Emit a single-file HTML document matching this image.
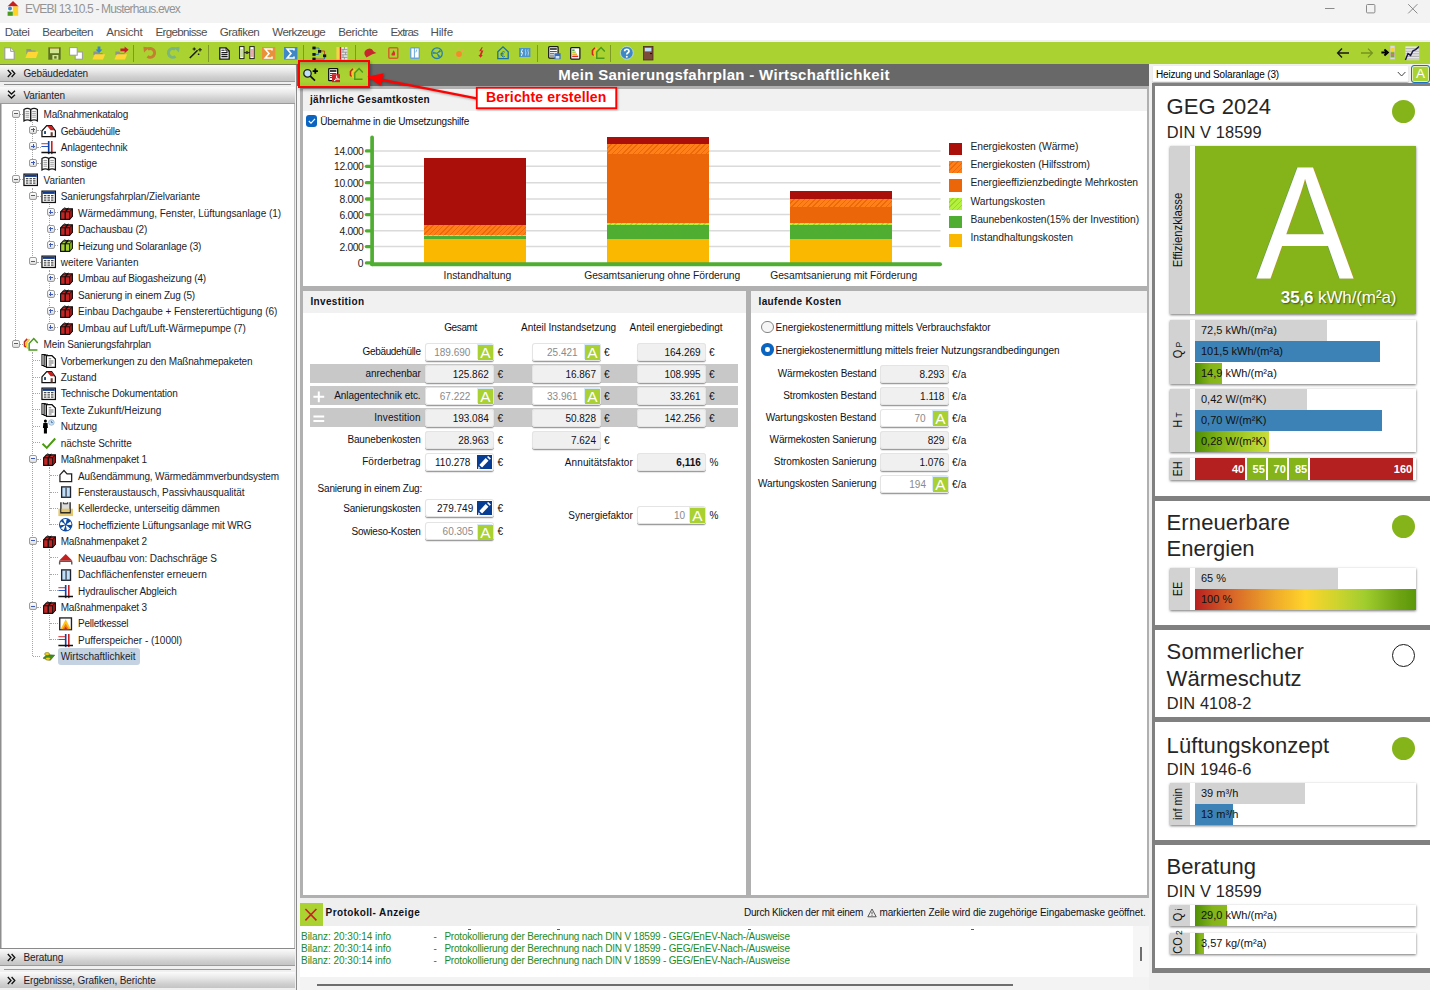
<!DOCTYPE html>
<html lang="de"><head><meta charset="utf-8"><title>EVEBI 13.10.5 - Musterhaus.evex</title>
<style>
html,body{margin:0;padding:0;font-family:"Liberation Sans",sans-serif}
body{width:1430px;height:990px;overflow:hidden;background:#f0f0f0;font-family:"Liberation Sans",sans-serif;}
#app{position:relative;width:1430px;height:990px;overflow:hidden;background:#f0f0f0;font-family:"Liberation Sans",sans-serif;font-size:10px;color:#000}
.a{position:absolute}
.t{position:absolute;white-space:pre}
svg{position:absolute;overflow:visible}
.hdr{position:absolute;left:0;width:295px;height:16px;background:linear-gradient(#fbfbfb 0%,#e9e9e9 35%,#cfcfcf 75%,#c4c4c4 100%);border-bottom:1px solid #9b9b9b}
.xb{position:absolute;width:6px;height:6px;border:1px solid #9c9c9c;border-radius:2px;background:linear-gradient(#ffffff,#dedede)}
.xb i{position:absolute;left:1px;top:2.5px;width:4px;height:1px;background:#3c5ac0}
.xb b{position:absolute;left:2.5px;top:1px;width:1px;height:4px;background:#3c5ac0}
.dv{position:absolute;width:0;border-left:1px dotted #a6a6a6}
.dh{position:absolute;height:0;border-top:1px dotted #a6a6a6}
.bx{position:absolute;height:18px;margin-top:-.5px;border-radius:3px;background:#f0f0f0;box-shadow:inset 0 0 0 1px #e4e4e4,0 1px 0 0 #9d9d9d,0 2px 1px 0 rgba(0,0,0,.10)}
.bx.w{background:#fff}
.ab{position:absolute;width:15px;height:15px;background:#a9d131;color:#fff;font-size:15.4px;line-height:15px;text-align:center;box-shadow:-1px -1px 0 0 #d6eafc}
.pb{position:absolute;width:14.8px;height:14.4px;background:#063d92}
.band{position:absolute;left:310px;width:428px;height:19.4px;background:#c8c8c8}
.card{position:absolute;left:1170px;width:245.5px;background:#fff;box-shadow:0 1px 2.5px rgba(0,0,0,.55)}
.card .g{position:absolute;left:0;top:0;bottom:0;width:20px;background:#d2d2d2}
.rot{position:absolute;white-space:pre;transform:translate(-50%,-50%) rotate(-90deg) scaleX(.87);font-size:12.5px;line-height:12px;color:#111}
.sep{position:absolute;left:1155px;width:275px;height:5px;background:#808080}
.circ{position:absolute;left:1392px;width:23px;height:23px;border-radius:50%;background:#84b419}
.h1{color:#262626}

</style></head>
<body>
<div id="app">

<svg width="0" height="0" style="position:absolute;left:-10px;top:-10px">
<defs>
<symbol id="i-book" viewBox="0 0 16 16">
 <path d="M1 2.6C3 1.2 6 1.2 8 2.6C10 1.2 13 1.2 15 2.6V14.4C13 13.2 10 13.2 8 14.4C6 13.2 3 13.2 1 14.4Z" fill="#fff" stroke="#1a1a1a" stroke-width="1.3"></path>
 <path d="M8 2.6V14.4" stroke="#1a1a1a" stroke-width="1.5"></path>
 <path d="M2.6 4.6h3.8M2.6 6.6h3.8M2.6 8.6h3.8M2.6 10.6h3.8M9.6 4.6h3.8M9.6 6.6h3.8M9.6 8.6h3.8M9.6 10.6h3.8" stroke="#8a8a8a" stroke-width=".9"></path>
</symbol>
<symbol id="i-house" viewBox="0 0 16 16">
 <path d="M1 8.2L6 2.6H11L15 8.2V14.2H1Z" fill="#fff" stroke="#111" stroke-width="1.3"></path>
 <path d="M6.2 2.8H10.8L14.2 7.6H10Z" fill="#c8201e"></path>
 <rect x="3.2" y="8.4" width="2" height="3" fill="#1d4d7c"></rect>
 <rect x="10" y="9.6" width="2.2" height="4.4" fill="#6a3b30"></rect>
</symbol>
<symbol id="i-pipes" viewBox="0 0 16 16">
 <path d="M.4 4.8H7.4" stroke="#e2575a" stroke-width="1.2"></path>
 <path d="M.4 7.8H7.4" stroke="#2a59c4" stroke-width="1.2"></path>
 <path d="M8 2V15.8" stroke="#0e43a6" stroke-width="1.7"></path>
 <path d="M11.2 2V15.8" stroke="#c8201e" stroke-width="1.7"></path>
 <path d="M.4 14H15.6" stroke="#111" stroke-width="1.5"></path>
</symbol>
<symbol id="i-table" viewBox="0 0 16 16">
 <rect x="1" y="2.2" width="14" height="11.8" fill="#fff" stroke="#111" stroke-width="1.3"></rect>
 <rect x="1.7" y="2.9" width="12.6" height="2.2" fill="#103a90"></rect>
 <path d="M3 6.9h2.6M6.7 6.9h2.6M10.4 6.9h2.6M3 9.2h2.6M6.7 9.2h2.6M10.4 9.2h2.6M3 11.5h2.6M6.7 11.5h2.6M10.4 11.5h2.6" stroke="#4a4a4a" stroke-width="1.3"></path>
</symbol>
<symbol id="i-rbox" viewBox="0 0 13 13">
 <path d="M.6 4.8L3.4 1.8H12.4V9.2L9.6 12.4H.6Z" fill="#c62422" stroke="#111" stroke-width="1.15" stroke-linejoin="round"></path>
 <path d="M9.6 4.8L12.4 1.8V9.2L9.6 12.4Z" fill="#a11a18" stroke="#111" stroke-width=".9" stroke-linejoin="round"></path>
 <path d="M.6 4.8H9.6" stroke="#111" stroke-width="1"></path>
 <path d="M5.2 12.4V4.8L8 1.8" fill="none" stroke="#111" stroke-width="1.35"></path>
 <path d="M4.4 .3L6.3 2L8.6 1" fill="none" stroke="#111" stroke-width=".9"></path>
</symbol>
<symbol id="i-gbox" viewBox="0 0 13 13">
 <path d="M.6 4.8L3.4 1.8H12.4V9.2L9.6 12.4H.6Z" fill="#a5d22e" stroke="#111" stroke-width="1.15" stroke-linejoin="round"></path>
 <path d="M9.6 4.8L12.4 1.8V9.2L9.6 12.4Z" fill="#86b31f" stroke="#111" stroke-width=".9" stroke-linejoin="round"></path>
 <path d="M.6 4.8H9.6" stroke="#111" stroke-width="1"></path>
 <path d="M5.2 12.4V4.8L8 1.8" fill="none" stroke="#111" stroke-width="1.35"></path>
 <path d="M4.4 .3L6.3 2L8.6 1" fill="none" stroke="#111" stroke-width=".9"></path>
</symbol>
<symbol id="i-sfp" viewBox="0 0 16 16">
 <path d="M4.4 2L1.6 5V9.2L3 10.6" fill="none" stroke="#c8281e" stroke-width="1.7"></path>
 <path d="M6.8 2.2L4 5.6V10.6L5.4 12" fill="none" stroke="#ffc828" stroke-width="1.7"></path>
 <path d="M15.4 6.2L11.2 1.6L6.4 6.8V13.6H15" fill="none" stroke="#4a9a1e" stroke-width="1.6"></path>
</symbol>
<symbol id="i-docs" viewBox="0 0 16 16">
 <path d="M1 1.6H4.4V13H1Z" fill="#fff" stroke="#111" stroke-width="1.1"></path>
 <path d="M3.2 2.2H6.6V14H3.2Z" fill="#d8d8d8" stroke="#111" stroke-width="1.1"></path>
 <path d="M5.6 2.8H11.4L15 6.2V15H5.6Z" fill="#fff" stroke="#111" stroke-width="1.3"></path>
 <path d="M8 6h2.6M8 8.4h5M8 10.4h5M8 12.4h3" stroke="#6a6a6a" stroke-width="1.1"></path>
</symbol>
<symbol id="i-person" viewBox="0 0 16 16">
 <circle cx="4.6" cy="2.2" r="1.6" fill="#000"></circle>
 <path d="M2.4 4.2H6.8L7.2 9.4H6.2V15H3V9.4H2Z" fill="#000"></path>
 <circle cx="10.8" cy="3.6" r="2.9" fill="#cfe4f7" stroke="#8fb0cc" stroke-width=".8"></circle>
 <path d="M10.8 2V3.8H12.4" stroke="#2f5f8f" stroke-width=".8" fill="none"></path>
</symbol>
<symbol id="i-check" viewBox="0 0 16 16">
 <path d="M1.6 9.2L6 13.4L14.8 3.6" fill="none" stroke="#4a9a0e" stroke-width="2.1"></path>
</symbol>
<symbol id="i-wall" viewBox="0 0 16 16">
 <path d="M2 7.2L6.2 2.6L9.4 6.2H14.2V14.2H2Z" fill="#fff" stroke="#222" stroke-width="1.3"></path>
</symbol>
<symbol id="i-win" viewBox="0 0 16 16">
 <rect x="3.8" y="3" width="9.2" height="10.8" fill="#bfe0fb" stroke="#20242e" stroke-width="1.4"></rect>
 <path d="M8.4 3V13.8" stroke="#5a6274" stroke-width="1.7"></path>
</symbol>
<symbol id="i-cellar" viewBox="0 0 16 16">
 <rect x=".4" y="8" width="15.2" height="7.8" fill="#e6c870"></rect>
 <path d="M3 1.4V12.2H12.6V1.4" fill="#dcdcdc" stroke="#222" stroke-width="1.4"></path>
 <rect x="3.7" y="8" width="8.2" height="3.5" fill="#e1c46c"></rect>
 <path d="M5.6 1.4V2.9H10V1.4" fill="none" stroke="#222" stroke-width="1"></path>
</symbol>
<symbol id="i-fan" viewBox="0 0 16 16">
 <circle cx="8" cy="8" r="7" fill="#0d4aa4"></circle>
 <g fill="#fff">
  <path d="M8 8L5.2 2.6A6 6 0 0 1 9 2.1Z"></path>
  <path d="M8 8L13 4.6A6 6 0 0 1 13.9 8.4Z"></path>
  <path d="M8 8L12.6 12A6 6 0 0 1 9.2 13.8Z"></path>
  <path d="M8 8L6 13.6A6 6 0 0 1 3 11.4Z"></path>
  <path d="M8 8L2.1 8.6A6 6 0 0 1 3.2 4.6Z"></path>
 </g>
 <circle cx="8" cy="8" r="1.2" fill="#0d4aa4"></circle>
</symbol>
<symbol id="i-roof" viewBox="0 0 16 16">
 <path d="M8 4.2L15 11.2H1Z" fill="#c4201f"></path>
 <path d="M1.7 15.2V12.6Q1.7 11.8 2.7 11.8H13.3Q14.3 11.8 14.3 12.6V15.2" fill="none" stroke="#5a5a5a" stroke-width="1.5"></path>
</symbol>
<symbol id="i-flame" viewBox="0 0 16 16">
 <rect x="1.8" y="2" width="12.2" height="12.2" fill="#fff" stroke="#222" stroke-width="1.4"></rect>
 <path d="M8 3.4L13.4 13.8H2.6Z" fill="#ffc320"></path>
 <path d="M8 8L11.4 13.8H4.6Z" fill="#f07a14"></path>
 <path d="M8 11.2L9.6 13.8H6.4Z" fill="#c8241a"></path>
</symbol>
<symbol id="i-money" viewBox="0 0 16 12">
 <path d="M.6 8L5.6 3.2L15.6 4L10 10.6Z" fill="#3f8f1e" stroke="#24501a" stroke-width=".6"></path>
 <ellipse cx="5.8" cy="2.6" rx="3.2" ry="1.9" fill="#f0d21e" stroke="#7a6a05" stroke-width=".7"></ellipse>
 <ellipse cx="7" cy="8.6" rx="3.2" ry="1.9" fill="#f0d21e" stroke="#7a6a05" stroke-width=".7"></ellipse>
</symbol>
<symbol id="i-pencil" viewBox="0 0 15 15">
 <path d="M2.3 9.9L8.7 3L11.5 5.7L5.1 12.6Z" fill="#fff"></path>
 <path d="M10 2L11.2 .9L13.9 3.5L12.7 4.8Z" fill="#fff"></path>
 <path d="M1 13.9L1.5 11.3L3.5 13.3Z" fill="#fff"></path>
</symbol>
</defs>
</svg>

<div class="a" style="left:0px;top:0px;width:1430px;height:23px;background:#f3f3f3;"></div>
<svg style="left:7px;top:1px" width="12" height="15" viewBox="0 0 12 15"><path d="M6 0L11.6 5.4H.4Z" fill="#c8201e"></path><rect x=".6" y="5.4" width="5.2" height="5" fill="#fff"></rect><circle cx="3" cy="7.6" r="2" fill="#3f88c5"></circle><rect x="5.8" y="5.4" width="5.4" height="9.4" fill="#ffd42a"></rect><rect x=".6" y="10.6" width="5.2" height="4.2" fill="#4a9a1e"></rect></svg>
<span class="t" style="top: 1.3px; font-size: 12px; line-height: 16px; color: rgb(148, 148, 148); left: 25px; letter-spacing: -0.831px;">EVEBI 13.10.5 - Musterhaus.evex</span>
<svg style="left:1320px;top:0px" width="110" height="20" viewBox="0 0 110 20"><path d="M5 8.5H14.5" stroke="#8a8a8a" stroke-width="1"></path><rect x="46.5" y="4.5" width="8.4" height="8.4" rx="1" fill="none" stroke="#8a8a8a" stroke-width="1"></rect><path d="M88.2 4.2L97.4 13.4M97.4 4.2L88.2 13.4" stroke="#8a8a8a" stroke-width="1"></path></svg>
<div class="a" style="left:0px;top:23px;width:1430px;height:17px;background:#ffffff;"></div>
<div class="a" style="left:0px;top:40px;width:1430px;height:2px;background:#f1f1f1;"></div>
<span class="t" style="top: 24.2px; font-size: 11.6px; line-height: 15px; color: rgb(80, 80, 80); left: 4.7px; letter-spacing: -0.496px;">Datei</span>
<span class="t" style="top: 24.2px; font-size: 11.6px; line-height: 15px; color: rgb(80, 80, 80); left: 42.3px; letter-spacing: -0.548px;">Bearbeiten</span>
<span class="t" style="top: 24.2px; font-size: 11.6px; line-height: 15px; color: rgb(80, 80, 80); left: 106.2px; letter-spacing: -0.247px;">Ansicht</span>
<span class="t" style="top: 24.2px; font-size: 11.6px; line-height: 15px; color: rgb(80, 80, 80); left: 155.5px; letter-spacing: -0.682px;">Ergebnisse</span>
<span class="t" style="top: 24.2px; font-size: 11.6px; line-height: 15px; color: rgb(80, 80, 80); left: 219.7px; letter-spacing: -0.529px;">Grafiken</span>
<span class="t" style="top: 24.2px; font-size: 11.6px; line-height: 15px; color: rgb(80, 80, 80); left: 272.3px; letter-spacing: -0.615px;">Werkzeuge</span>
<span class="t" style="top: 24.2px; font-size: 11.6px; line-height: 15px; color: rgb(80, 80, 80); left: 338.2px; letter-spacing: -0.404px;">Berichte</span>
<span class="t" style="top: 24.2px; font-size: 11.6px; line-height: 15px; color: rgb(80, 80, 80); left: 390.5px; letter-spacing: -0.9px;">Extras</span>
<span class="t" style="top: 24.2px; font-size: 11.6px; line-height: 15px; color: rgb(80, 80, 80); left: 430.4px; letter-spacing: -0.121px;">Hilfe</span>
<div class="a" style="left:0px;top:42px;width:1430px;height:22px;background:#aad332;"></div>
<div class="a" style="left:0px;top:64px;width:297px;height:1px;background:#77805a;"></div>
<div class="a" style="left:133.0px;top:44.5px;width:1px;height:17.5px;background:#7d9a26;"></div>
<div class="a" style="left:208.0px;top:44.5px;width:1px;height:17.5px;background:#7d9a26;"></div>
<div class="a" style="left:303.0px;top:44.5px;width:1px;height:17.5px;background:#7d9a26;"></div>
<div class="a" style="left:355.0px;top:44.5px;width:1px;height:17.5px;background:#7d9a26;"></div>
<div class="a" style="left:537.0px;top:44.5px;width:1px;height:17.5px;background:#7d9a26;"></div>
<div class="a" style="left:610.0px;top:44.5px;width:1px;height:17.5px;background:#7d9a26;"></div>
<svg style="left:4px;top:46.5px" width="11" height="13" viewBox="0 0 11 13"><path d="M.8.8H6.6L10.2 4.4V12.2H.8Z" fill="#fff" stroke="#9a9a9a" stroke-width="1.1"></path><path d="M6.6.8V4.4H10.2" fill="#f0f0f0" stroke="#9a9a9a" stroke-width=".9"></path></svg>
<svg style="left:25px;top:47.5px" width="14" height="11" viewBox="0 0 14 11"><path d="M1.4 1H5.6L6.8 2.4H10.6V6H1.4Z" fill="#8e9492"></path><path d="M2.8 3.8H13.4L11 10H.4Z" fill="#ffd633"></path></svg>
<svg style="left:47.5px;top:46.8px" width="13" height="13" viewBox="0 0 13 13"><rect x=".3" y=".3" width="12.4" height="12.4" fill="#5d7220"></rect><rect x="2" y=".3" width="9" height="1.2" fill="#c97b3a"></rect><rect x="2" y="1.6" width="9" height="4.6" fill="#cfe590"></rect><rect x="4.4" y="8" width="6" height="4.7" fill="#cfe590"></rect><rect x="6.2" y="9.2" width="2.4" height="2.4" fill="#5d7220"></rect></svg>
<svg style="left:69px;top:46.8px" width="14" height="13" viewBox="0 0 14 13"><rect x="6.2" y="5" width="7.2" height="7.2" fill="#fff" stroke="#9a9a9a" stroke-width="1"></rect><rect x=".6" y=".6" width="7.6" height="7.6" fill="#fff" stroke="#9a9a9a" stroke-width="1"></rect></svg>
<svg style="left:92px;top:45.6px" width="14" height="14" viewBox="0 0 14 14"><path d="M1.4 5.6H5.2L6.4 7H10.6V9H1.4Z" fill="#8e9492"></path><path d="M2.8 8.2H13.2L11 13.6H.4Z" fill="#ffd633"></path><path d="M5.6.4H8.4V3.6H10.4L7 7.2L3.6 3.6H5.6Z" fill="#3a86c8"></path></svg>
<svg style="left:114px;top:45.6px" width="15" height="14" viewBox="0 0 15 14"><path d="M1.4 5.6H5.2L6.4 7H10.6V9H1.4Z" fill="#8e9492"></path><path d="M2.8 8.2H13.2L11 13.6H.4Z" fill="#ffd633"></path><path d="M6.4 2.4H10.6V.4L14.6 3.8L10.6 7.2V5.2H6.4Z" fill="#c8202a"></path></svg>
<svg style="left:143px;top:46.2px" width="14" height="13" viewBox="0 0 14 13"><path d="M4.68 3.3A4.4 4.4 0 1 1 4.49 10.37" fill="none" stroke="#c47f30" stroke-width="3"></path><path d="M.4 .8L6.4 1.4L1 6.6Z" fill="#c47f30"></path></svg>
<svg style="left:165.6px;top:46.2px" width="14" height="13" viewBox="0 0 14 13"><path d="M9.32 3.3A4.4 4.4 0 1 0 9.51 10.37" fill="none" stroke="#7ab67e" stroke-width="3"></path><path d="M13.6 .8L7.6 1.4L13 6.6Z" fill="#7ab67e"></path></svg>
<svg style="left:189px;top:46.4px" width="14" height="13" viewBox="0 0 14 13"><path d="M.8 12L8.6 4.2" stroke="#1a1a1a" stroke-width="1.5"></path><path d="M5.2 1.4V4.6M3.6 3H6.8M11 2V5.6M9.2 3.8H12.8M9.6 7.4V9M8.8 8.2H10.4" stroke="#1a1a1a" stroke-width="1.1"></path></svg>
<svg style="left:219px;top:46.8px" width="11" height="13" viewBox="0 0 11 13"><path d="M.8.8H7L10.2 4V12.2H.8Z" fill="#fff" stroke="#1a1a1a" stroke-width="1.3"></path><path d="M7 .8V4H10.2" fill="none" stroke="#1a1a1a" stroke-width="1"></path><path d="M2.4 3.2H5.6M2.4 5.6H8.6M2.4 7.6H8.6M2.4 9.6H8.6" stroke="#1a1a1a" stroke-width="1.1"></path></svg>
<svg style="left:239px;top:46.4px" width="16" height="13.4" viewBox="0 0 16 13.4"><rect x=".6" y=".6" width="4.4" height="12" fill="#fff" stroke="#222" stroke-width="1"></rect><rect x="10.8" y=".6" width="4.4" height="12" fill="#fff" stroke="#222" stroke-width="1"></rect><path d="M1.4 4H4.2M1.4 6H4.2M1.4 8H4.2M1.4 10H4.2" stroke="#8ab82a" stroke-width=".9"></path><path d="M11.6 4H14.4M11.6 6H14.4M11.6 8H14.4M11.6 10H14.4" stroke="#d44" stroke-width=".9"></path><path d="M5 6.6H10.8" stroke="#222" stroke-width="1"></path><circle cx="8" cy="6.6" r="1.5" fill="#333"></circle></svg>
<svg style="left:262px;top:46.8px" width="13.4" height="12.6" viewBox="0 0 13.4 12.6"><rect width="13.4" height="12.6" fill="#e8913a"></rect><path d="M10 3.4V2H3.2L7 6.4L3.2 11H10V9.6" fill="none" stroke="#fff" stroke-width="1.6"></path></svg>
<svg style="left:284px;top:46.8px" width="13.4" height="12.6" viewBox="0 0 13.4 12.6"><rect width="13.4" height="12.6" fill="#3f88c5"></rect><path d="M10 3.4V2H3.2L7 6.4L3.2 11H10V9.6" fill="none" stroke="#fff" stroke-width="1.6"></path></svg>
<svg style="left:312px;top:45.8px" width="16" height="15" viewBox="0 0 16 15"><path d="M2 2H7V5.2M2 8.4H6.6V5.4M2 13H12.6V10" fill="none" stroke="#2a7ab8" stroke-width="1"></path><path d="M7.8 5H12.6V8.6" fill="none" stroke="#c8402a" stroke-width="1"></path><path d="M2 13H11" stroke="#d8902a" stroke-width="1"></path><rect x=".4" y=".6" width="3.2" height="2.8" fill="#111"></rect><rect x=".4" y="7" width="3.2" height="2.8" fill="#111"></rect><rect x=".4" y="11.6" width="3.2" height="2.8" fill="#111"></rect><rect x="6" y="4" width="3.2" height="2.8" fill="#111"></rect><rect x="11" y="8.4" width="3.2" height="2.8" fill="#111"></rect></svg>
<svg style="left:336px;top:46.8px" width="12" height="12.6" viewBox="0 0 12 12.6"><rect x=".4" width="3.4" height="12.6" fill="#f5d34a"></rect><rect x="3.8" width="1.6" height="12.6" fill="#c8262a"></rect><rect x="5.4" width="6" height="12.6" fill="#e4e4e4"></rect><path d="M5.4 2.6H11.4M5.4 5.2H11.4M5.4 7.8H11.4M5.4 10.4H11.4M8.4 0V2.6M7 2.6V5.2M9.6 5.2V7.8M7 7.8V10.4M8.4 10.4V12.6" stroke="#8a8a8a" stroke-width=".8"></path></svg>
<svg style="left:364px;top:47.6px" width="13" height="10" viewBox="0 0 13 10"><path d="M.6 6.6A4.8 4.8 0 0 1 9.6 3.4L12.4 5L8.4 6.2L2.4 9.4Z" fill="#c8282d"></path></svg>
<svg style="left:388px;top:46.8px" width="10.6" height="12" viewBox="0 0 10.6 12"><rect x=".8" y=".8" width="9" height="10.4" rx="1" fill="#aad332" stroke="#d0652a" stroke-width="1.5"></rect><path d="M5.4 3.2C7 5 7.6 6.4 6.8 8.4H3.8C3 7 3.8 6 4.6 5.4C4.8 4.6 5 4 5.4 3.2Z" fill="#d8322a"></path></svg>
<svg style="left:410px;top:46.8px" width="10" height="12" viewBox="0 0 10 12"><rect x=".7" y=".7" width="8.6" height="10.6" rx=".8" fill="#fff" stroke="#6ca6d8" stroke-width="1.4"></rect><path d="M4.4 .8V11.2" stroke="#6ca6d8" stroke-width="1"></path><path d="M6.8 2.4L5.8 5.4" stroke="#6ca6d8" stroke-width=".9"></path></svg>
<svg style="left:431px;top:46.8px" width="12" height="12.4" viewBox="0 0 12 12.4"><circle cx="6" cy="6.2" r="5.3" fill="none" stroke="#2a7fa8" stroke-width="1.3"></circle><path d="M6 6.2L8.8 3.2L9.6 4.6ZM6 6.2L9.2 9.4L7.6 10ZM6 6.2L1.8 6.6L2.2 5Z" fill="#2a7fa8" stroke="#2a7fa8" stroke-width=".6"></path></svg>
<svg style="left:452.5px;top:47.5px" width="12" height="12" viewBox="0 0 12 12"><circle cx="6" cy="6" r="2.9" fill="#f28c28"></circle><path d="M6 .4V2M6 10V11.6M.4 6H2M10 6H11.6M2 2L3.2 3.2M8.8 8.8L10 10M2 10L3.2 8.8M8.8 3.2L10 2" stroke="#f4a556" stroke-width="1"></path></svg>
<svg style="left:477.5px;top:47.4px" width="6" height="11" viewBox="0 0 6 11"><path d="M3.6 .2L1.2 4.2H3.2L1.6 8H.4L2.6 10.8L4.8 8H3.6L5.4 3.6H3.2L4.8 .2Z" fill="#d8242a"></path></svg>
<svg style="left:496.5px;top:46px" width="12" height="13.4" viewBox="0 0 12 13.4"><path d="M.8 5.8L6 .9L11.2 5.8V12.6H.8Z" fill="none" stroke="#1a6fa8" stroke-width="1.3"></path><path d="M7.8 6.2A2.2 2.6 0 1 0 7.8 10.4M3.6 7.6H6.6M3.6 9H6.6" fill="none" stroke="#1a6fa8" stroke-width=".9"></path></svg>
<svg style="left:519px;top:48.2px" width="11.4" height="9" viewBox="0 0 11.4 9"><rect width="11.4" height="9" fill="#4a93cc"></rect><path d="M3.4 1L2.2 4.4H3.6L2.4 8" stroke="#fff" stroke-width=".9" fill="none"></path><path d="M6.6 1.4C5.6 3 7.6 4.4 6.6 6.2C6.2 7 6.6 7.6 6.6 7.6M9.2 1.4C8.2 3 10.2 4.4 9.2 6.2C8.8 7 9.2 7.6 9.2 7.6" stroke="#cfe4f7" stroke-width=".8" fill="none"></path></svg>
<svg style="left:548px;top:46.4px" width="13" height="13.6" viewBox="0 0 13 13.6"><rect x=".7" y=".7" width="9.4" height="11.4" rx=".8" fill="#fff" stroke="#1a1a1a" stroke-width="1.3"></rect><path d="M2 3H8.8" stroke="#1a1a1a" stroke-width="1.5"></path><path d="M2 5.6H8.8M2 7.8H6M2 10H6" stroke="#444" stroke-width="1"></path><rect x="6.4" y="7.2" width="6.2" height="6" fill="#3a6fc0"></rect><rect x="7.6" y="10" width="3.8" height="2.6" fill="#cfe0f7"></rect></svg>
<svg style="left:570px;top:46.8px" width="10.6" height="12.8" viewBox="0 0 10.6 12.8"><rect x=".7" y=".7" width="9.2" height="11.4" rx=".8" fill="#fff" stroke="#1a1a1a" stroke-width="1.3"></rect><path d="M2.2 3.2H4.6" stroke="#3a9a2a" stroke-width="1.4"></path><path d="M2.2 5.2H5.8" stroke="#a6c82a" stroke-width="1.4"></path><path d="M2.2 7.2H7" stroke="#f0a020" stroke-width="1.4"></path><path d="M2.2 9.4H8.2" stroke="#d8242a" stroke-width="1.4"></path></svg>
<svg style="left:590.6px;top:45.8px" width="14.4" height="14.4"><use href="#i-sfp"></use></svg>
<svg style="left:620px;top:46.2px" width="13.6" height="13.6" viewBox="0 0 13.6 13.6"><circle cx="6.8" cy="6.8" r="6.4" fill="#3d88c4" stroke="#cfe2f2" stroke-width=".7"></circle><path d="M4.6 5.2C4.6 2.6 9 2.6 9 5.2C9 6.8 6.8 6.6 6.8 8.4" fill="none" stroke="#fff" stroke-width="1.7"></path><circle cx="6.8" cy="10.7" r="1" fill="#fff"></circle></svg>
<svg style="left:643.2px;top:45.8px" width="10.4" height="14.4" viewBox="0 0 10.4 14.4"><rect x=".4" y=".4" width="9.6" height="13.6" fill="#7b4a3a" stroke="#4a2a20" stroke-width=".8"></rect><rect x="1.8" y="1.8" width="6.6" height="3.6" fill="#bfe0fb"></rect><path d="M7 7.6H9" stroke="#111" stroke-width="1"></path></svg>
<svg style="left:1336px;top:46px" width="14" height="14" viewBox="0 0 14 14"><path d="M13 7H2M6 2.6L1.6 7L6 11.4" fill="none" stroke="#1a1a1a" stroke-width="1.4"></path></svg>
<svg style="left:1360px;top:46px" width="14" height="14" viewBox="0 0 14 14"><path d="M1 7H12M8 2.6L12.4 7L8 11.4" fill="none" stroke="#76931f" stroke-width="1.3"></path></svg>
<svg style="left:1381px;top:45.4px" width="15" height="15" viewBox="0 0 15 15"><path d="M.4 7.6H5M3.4 4.6L6.8 7.6L3.4 10.6" fill="none" stroke="#000" stroke-width="2"></path><rect x="9" y=".4" width="5" height="14.2" fill="#d9d9d9" stroke="#b5b5b5" stroke-width=".6"></rect><rect x="9.6" y="3" width="3.8" height="3.6" fill="#ffd42a"></rect><rect x="9.6" y="6.8" width="3.8" height="1.4" fill="#8ab82a"></rect><rect x="9.6" y="8.4" width="3.8" height="1.2" fill="#c8402a"></rect><rect x="9.6" y="9.8" width="3.8" height="2.6" fill="#7aa83a"></rect></svg>
<svg style="left:1404.6px;top:45.8px" width="15" height="14.6" viewBox="0 0 15 14.6"><rect x=".4" y=".4" width="13.8" height="13.8" fill="#e6e6e6"></rect><path d="M.4 2.6H14.2M.4 5.2H14.2M.4 7.8H14.2M.4 10.4H14.2M.4 13H14.2" stroke="#b4b4b4" stroke-width="1.1"></path><path d="M.4 14L3 7.6L5.6 9.4L8 4.8L10.6 3.6L14 .4" fill="none" stroke="#14143c" stroke-width="1.4"></path></svg>
<div class="a" style="left:0px;top:65px;width:296px;height:925px;background:#f0f0f0;"></div>
<div class="a" style="left:0px;top:103px;width:295px;height:846px;background:#ffffff;box-shadow:inset 1.5px 0 0 #8e8e8e,inset -1px 0 0 #bdbdbd"></div>
<div class="a" style="left:0px;top:948px;width:295px;height:1px;background:#8a8a8a;"></div>
<div class="a" style="left:296px;top:65px;width:1.3px;height:925px;background:#8a8a8a;"></div>
<div class="a" style="left:297.3px;top:65px;width:2.7px;height:925px;background:#f6f6f6;"></div>
<div class="hdr" style="top:65px"></div>
<svg style="left:6.6px;top:68.6px" width="9" height="9"><path d="M.8 1L4 4.5L.8 8M4.6 1L7.8 4.5L4.6 8" fill="none" stroke="#111" stroke-width="1.3"></path></svg>
<span class="t" style="top: 66.8px; font-size: 10px; line-height: 13px; color: rgb(28, 28, 44); left: 23.4px; letter-spacing: -0.131px;">Gebäudedaten</span>
<div class="a" style="left:4px;top:84px;width:287px;height:1px;background:#8c8c8c;"></div>
<div class="hdr" style="top:87px"></div>
<svg style="left:6.8px;top:90.4px" width="9" height="10"><path d="M1 .8L4.5 4L8 .8M1 4.8L4.5 8L8 4.8" fill="none" stroke="#111" stroke-width="1.3"></path></svg>
<span class="t" style="top: 88.8px; font-size: 10px; line-height: 13px; color: rgb(28, 28, 44); left: 23.4px; letter-spacing: -0.053px;">Varianten</span>
<div class="hdr" style="top:949px"></div>
<svg style="left:6.6px;top:952.6px" width="9" height="9"><path d="M.8 1L4 4.5L.8 8M4.6 1L7.8 4.5L4.6 8" fill="none" stroke="#111" stroke-width="1.3"></path></svg>
<span class="t" style="top: 950.8px; font-size: 10px; line-height: 13px; color: rgb(28, 28, 44); left: 23.4px; letter-spacing: -0.087px;">Beratung</span>
<div class="a" style="left:4px;top:969px;width:287px;height:1px;background:#9a9a9a;"></div>
<div class="hdr" style="top:972px"></div>
<svg style="left:6.6px;top:975.6px" width="9" height="9"><path d="M.8 1L4 4.5L.8 8M4.6 1L7.8 4.5L4.6 8" fill="none" stroke="#111" stroke-width="1.3"></path></svg>
<span class="t" style="top: 973.8px; font-size: 10px; line-height: 13px; color: rgb(28, 28, 44); left: 23.4px; letter-spacing: -0.114px;">Ergebnisse, Grafiken, Berichte</span>
<div class="a" style="left:0px;top:988px;width:295px;height:2px;background:#f0f0f0;"></div>
<div class="dv" style="left:15px;top:118.6px;height:221.0px"></div>
<div class="dv" style="left:32px;top:122.1px;height:41.3px"></div>
<div class="dv" style="left:32px;top:187.8px;height:70.2px"></div>
<div class="dv" style="left:49px;top:204.2px;height:41.3px"></div>
<div class="dv" style="left:49px;top:270.0px;height:57.7px"></div>
<div class="dv" style="left:32px;top:352.1px;height:304.2px"></div>
<div class="dv" style="left:49px;top:467.1px;height:57.7px"></div>
<div class="dv" style="left:49px;top:549.3px;height:41.3px"></div>
<div class="dv" style="left:49px;top:615.0px;height:24.9px"></div>
<div class="a" style="left:57.7px;top:648.4px;width:82.2px;height:16.2px;background:#c4d2e1;border-radius:3px"></div>
<div class="dh" style="left:20px;top:113.6px;width:3.4px"></div>
<div class="xb" style="left:12px;top:109.5px"><i></i></div>
<svg style="left:23.4px;top:106.5px" width="15.4" height="15.4"><use href="#i-book"></use></svg>
<span class="t" style="top: 108.1px; font-size: 10px; line-height: 13px; color: rgb(28, 28, 44); left: 43.6px; letter-spacing: -0.249px;">Maßnahmenkatalog</span>
<div class="dh" style="left:37.2px;top:130.0px;width:3.6px"></div>
<div class="xb" style="left:29.2px;top:125.9px"><i></i><b></b></div>
<svg style="left:40.8px;top:122.9px" width="15.4" height="15.4"><use href="#i-house"></use></svg>
<span class="t" style="top: 124.53px; font-size: 10px; line-height: 13px; color: rgb(28, 28, 44); left: 60.7px; letter-spacing: -0.248px;">Gebäudehülle</span>
<div class="dh" style="left:37.2px;top:146.5px;width:3.6px"></div>
<div class="xb" style="left:29.2px;top:142.4px"><i></i><b></b></div>
<svg style="left:40.8px;top:139.4px" width="15.4" height="15.4"><use href="#i-pipes"></use></svg>
<span class="t" style="top: 140.96px; font-size: 10px; line-height: 13px; color: rgb(28, 28, 44); left: 60.7px; letter-spacing: -0.114px;">Anlagentechnik</span>
<div class="dh" style="left:37.2px;top:162.9px;width:3.6px"></div>
<div class="xb" style="left:29.2px;top:158.8px"><i></i><b></b></div>
<svg style="left:40.8px;top:155.8px" width="15.4" height="15.4"><use href="#i-book"></use></svg>
<span class="t" style="top: 157.39px; font-size: 10px; line-height: 13px; color: rgb(28, 28, 44); left: 60.7px; letter-spacing: -0.119px;">sonstige</span>
<div class="dh" style="left:20px;top:179.3px;width:3.4px"></div>
<div class="xb" style="left:12px;top:175.2px"><i></i></div>
<svg style="left:23.4px;top:172.2px" width="15.4" height="15.4"><use href="#i-table"></use></svg>
<span class="t" style="top: 173.82px; font-size: 10px; line-height: 13px; color: rgb(28, 28, 44); left: 43.6px; letter-spacing: -0.075px;">Varianten</span>
<div class="dh" style="left:37.2px;top:195.8px;width:3.6px"></div>
<div class="xb" style="left:29.2px;top:191.7px"><i></i></div>
<svg style="left:40.8px;top:188.7px" width="15.4" height="15.4"><use href="#i-table"></use></svg>
<span class="t" style="top: 190.25px; font-size: 10px; line-height: 13px; color: rgb(28, 28, 44); left: 60.7px; letter-spacing: -0.061px;">Sanierungsfahrplan/Zielvariante</span>
<div class="dh" style="left:54.6px;top:212.2px;width:3.8px"></div>
<div class="xb" style="left:46.6px;top:208.1px"><i></i><b></b></div>
<svg style="left:60.1px;top:206.5px" width="13" height="13"><use href="#i-rbox"></use></svg>
<span class="t" style="top: 206.68px; font-size: 10px; line-height: 13px; color: rgb(28, 28, 44); left: 78.1px; letter-spacing: -0.04px;">Wärmedämmung, Fenster, Lüftungsanlage (1)</span>
<div class="dh" style="left:54.6px;top:228.6px;width:3.8px"></div>
<div class="xb" style="left:46.6px;top:224.5px"><i></i><b></b></div>
<svg style="left:60.1px;top:222.9px" width="13" height="13"><use href="#i-rbox"></use></svg>
<span class="t" style="top: 223.11px; font-size: 10px; line-height: 13px; color: rgb(28, 28, 44); left: 78.1px; letter-spacing: -0.147px;">Dachausbau (2)</span>
<div class="dh" style="left:54.6px;top:245.0px;width:3.8px"></div>
<div class="xb" style="left:46.6px;top:240.9px"><i></i><b></b></div>
<svg style="left:60.1px;top:239.3px" width="13" height="13"><use href="#i-gbox"></use></svg>
<span class="t" style="top: 239.54px; font-size: 10px; line-height: 13px; color: rgb(28, 28, 44); left: 78.1px; letter-spacing: -0.152px;">Heizung und Solaranlage (3)</span>
<div class="dh" style="left:37.2px;top:261.5px;width:3.6px"></div>
<div class="xb" style="left:29.2px;top:257.4px"><i></i></div>
<svg style="left:40.8px;top:254.4px" width="15.4" height="15.4"><use href="#i-table"></use></svg>
<span class="t" style="top: 255.97px; font-size: 10px; line-height: 13px; color: rgb(28, 28, 44); left: 60.7px; letter-spacing: 0.042px;">weitere Varianten</span>
<div class="dh" style="left:54.6px;top:277.9px;width:3.8px"></div>
<div class="xb" style="left:46.6px;top:273.8px"><i></i><b></b></div>
<svg style="left:60.1px;top:272.2px" width="13" height="13"><use href="#i-rbox"></use></svg>
<span class="t" style="top: 272.4px; font-size: 10px; line-height: 13px; color: rgb(28, 28, 44); left: 78.1px; letter-spacing: -0.163px;">Umbau auf Biogasheizung (4)</span>
<div class="dh" style="left:54.6px;top:294.3px;width:3.8px"></div>
<div class="xb" style="left:46.6px;top:290.2px"><i></i><b></b></div>
<svg style="left:60.1px;top:288.6px" width="13" height="13"><use href="#i-rbox"></use></svg>
<span class="t" style="top: 288.83px; font-size: 10px; line-height: 13px; color: rgb(28, 28, 44); left: 78.1px; letter-spacing: -0.165px;">Sanierung in einem Zug (5)</span>
<div class="dh" style="left:54.6px;top:310.8px;width:3.8px"></div>
<div class="xb" style="left:46.6px;top:306.7px"><i></i><b></b></div>
<svg style="left:60.1px;top:305.1px" width="13" height="13"><use href="#i-rbox"></use></svg>
<span class="t" style="top: 305.26px; font-size: 10px; line-height: 13px; color: rgb(28, 28, 44); left: 78.1px; letter-spacing: -0.029px;">Einbau Dachgaube + Fensterertüchtigung (6)</span>
<div class="dh" style="left:54.6px;top:327.2px;width:3.8px"></div>
<div class="xb" style="left:46.6px;top:323.1px"><i></i><b></b></div>
<svg style="left:60.1px;top:321.5px" width="13" height="13"><use href="#i-rbox"></use></svg>
<span class="t" style="top: 321.69px; font-size: 10px; line-height: 13px; color: rgb(28, 28, 44); left: 78.1px; letter-spacing: -0.034px;">Umbau auf Luft/Luft-Wärmepumpe (7)</span>
<div class="dh" style="left:20px;top:343.6px;width:3.4px"></div>
<div class="xb" style="left:12px;top:339.5px"><i></i></div>
<svg style="left:23.4px;top:336.5px" width="15.4" height="15.4"><use href="#i-sfp"></use></svg>
<span class="t" style="top: 338.12px; font-size: 10px; line-height: 13px; color: rgb(28, 28, 44); left: 43.6px; letter-spacing: -0.165px;">Mein Sanierungsfahrplan</span>
<div class="dh" style="left:33px;top:360.0px;width:7.3px"></div>
<svg style="left:40.8px;top:352.9px" width="15.4" height="15.4"><use href="#i-docs"></use></svg>
<span class="t" style="top: 354.55px; font-size: 10px; line-height: 13px; color: rgb(28, 28, 44); left: 60.7px; letter-spacing: -0.168px;">Vorbemerkungen zu den Maßnahmepaketen</span>
<div class="dh" style="left:33px;top:376.5px;width:7.3px"></div>
<svg style="left:40.8px;top:369.4px" width="15.4" height="15.4"><use href="#i-house"></use></svg>
<span class="t" style="top: 370.98px; font-size: 10px; line-height: 13px; color: rgb(28, 28, 44); left: 60.7px; letter-spacing: -0.049px;">Zustand</span>
<div class="dh" style="left:33px;top:392.9px;width:7.3px"></div>
<svg style="left:40.8px;top:385.8px" width="15.4" height="15.4"><use href="#i-table"></use></svg>
<span class="t" style="top: 387.41px; font-size: 10px; line-height: 13px; color: rgb(28, 28, 44); left: 60.7px; letter-spacing: -0.128px;">Technische Dokumentation</span>
<div class="dh" style="left:33px;top:409.3px;width:7.3px"></div>
<svg style="left:40.8px;top:402.2px" width="15.4" height="15.4"><use href="#i-docs"></use></svg>
<span class="t" style="top: 403.84px; font-size: 10px; line-height: 13px; color: rgb(28, 28, 44); left: 60.7px; letter-spacing: 0.062px;">Texte Zukunft/Heizung</span>
<div class="dh" style="left:33px;top:425.8px;width:7.3px"></div>
<svg style="left:40.8px;top:418.7px" width="15.4" height="15.4"><use href="#i-person"></use></svg>
<span class="t" style="top: 420.27px; font-size: 10px; line-height: 13px; color: rgb(28, 28, 44); left: 60.7px; letter-spacing: -0.136px;">Nutzung</span>
<div class="dh" style="left:33px;top:442.2px;width:7.3px"></div>
<svg style="left:40.8px;top:435.1px" width="15.4" height="15.4"><use href="#i-check"></use></svg>
<span class="t" style="top: 436.7px; font-size: 10px; line-height: 13px; color: rgb(28, 28, 44); left: 60.7px; letter-spacing: -0.045px;">nächste Schritte</span>
<div class="dh" style="left:37.2px;top:458.6px;width:3.6px"></div>
<div class="xb" style="left:29.2px;top:454.5px"><i></i></div>
<svg style="left:42.5px;top:452.9px" width="13" height="13"><use href="#i-rbox"></use></svg>
<span class="t" style="top: 453.13px; font-size: 10px; line-height: 13px; color: rgb(28, 28, 44); left: 60.7px; letter-spacing: -0.172px;">Maßnahmenpaket 1</span>
<div class="dh" style="left:50px;top:475.1px;width:7.9px"></div>
<svg style="left:58.4px;top:468.0px" width="15.4" height="15.4"><use href="#i-wall"></use></svg>
<span class="t" style="top: 469.56px; font-size: 10px; line-height: 13px; color: rgb(28, 28, 44); left: 78.1px; letter-spacing: -0.181px;">Außendämmung, Wärmedämmverbundsystem</span>
<div class="dh" style="left:50px;top:491.5px;width:7.9px"></div>
<svg style="left:58.4px;top:484.4px" width="15.4" height="15.4"><use href="#i-win"></use></svg>
<span class="t" style="top: 485.99px; font-size: 10px; line-height: 13px; color: rgb(28, 28, 44); left: 78.1px; letter-spacing: -0.057px;">Fensteraustausch, Passivhausqualität</span>
<div class="dh" style="left:50px;top:507.9px;width:7.9px"></div>
<svg style="left:58.4px;top:500.8px" width="15.4" height="15.4"><use href="#i-cellar"></use></svg>
<span class="t" style="top: 502.42px; font-size: 10px; line-height: 13px; color: rgb(28, 28, 44); left: 78.1px; letter-spacing: -0.134px;">Kellerdecke, unterseitig dämmen</span>
<div class="dh" style="left:50px;top:524.4px;width:7.9px"></div>
<svg style="left:58.4px;top:517.2px" width="15.4" height="15.4"><use href="#i-fan"></use></svg>
<span class="t" style="top: 518.85px; font-size: 10px; line-height: 13px; color: rgb(28, 28, 44); left: 78.1px; letter-spacing: -0.119px;">Hocheffiziente Lüftungsanlage mit WRG</span>
<div class="dh" style="left:37.2px;top:540.8px;width:3.6px"></div>
<div class="xb" style="left:29.2px;top:536.7px"><i></i></div>
<svg style="left:42.5px;top:535.1px" width="13" height="13"><use href="#i-rbox"></use></svg>
<span class="t" style="top: 535.28px; font-size: 10px; line-height: 13px; color: rgb(28, 28, 44); left: 60.7px; letter-spacing: -0.172px;">Maßnahmenpaket 2</span>
<div class="dh" style="left:50px;top:557.2px;width:7.9px"></div>
<svg style="left:58.4px;top:550.1px" width="15.4" height="15.4"><use href="#i-roof"></use></svg>
<span class="t" style="top: 551.71px; font-size: 10px; line-height: 13px; color: rgb(28, 28, 44); left: 78.1px; letter-spacing: -0.109px;">Neuaufbau von: Dachschräge S</span>
<div class="dh" style="left:50px;top:573.6px;width:7.9px"></div>
<svg style="left:58.4px;top:566.5px" width="15.4" height="15.4"><use href="#i-win"></use></svg>
<span class="t" style="top: 568.14px; font-size: 10px; line-height: 13px; color: rgb(28, 28, 44); left: 78.1px; letter-spacing: -0.011px;">Dachflächenfenster erneuern</span>
<div class="dh" style="left:50px;top:590.1px;width:7.9px"></div>
<svg style="left:58.4px;top:583.0px" width="15.4" height="15.4"><use href="#i-pipes"></use></svg>
<span class="t" style="top: 584.57px; font-size: 10px; line-height: 13px; color: rgb(28, 28, 44); left: 78.1px; letter-spacing: -0.146px;">Hydraulischer Abgleich</span>
<div class="dh" style="left:37.2px;top:606.5px;width:3.6px"></div>
<div class="xb" style="left:29.2px;top:602.4px"><i></i></div>
<svg style="left:42.5px;top:600.8px" width="13" height="13"><use href="#i-rbox"></use></svg>
<span class="t" style="top: 601px; font-size: 10px; line-height: 13px; color: rgb(28, 28, 44); left: 60.7px; letter-spacing: -0.172px;">Maßnahmenpaket 3</span>
<div class="dh" style="left:50px;top:622.9px;width:7.9px"></div>
<svg style="left:58.4px;top:615.8px" width="15.4" height="15.4"><use href="#i-flame"></use></svg>
<span class="t" style="top: 617.43px; font-size: 10px; line-height: 13px; color: rgb(28, 28, 44); left: 78.1px; letter-spacing: -0.263px;">Pelletkessel</span>
<div class="dh" style="left:50px;top:639.4px;width:7.9px"></div>
<svg style="left:58.4px;top:632.3px" width="15.4" height="15.4"><use href="#i-pipes"></use></svg>
<span class="t" style="top: 633.86px; font-size: 10px; line-height: 13px; color: rgb(28, 28, 44); left: 78.1px; letter-spacing: -0.017px;">Pufferspeicher - (1000l)</span>
<div class="dh" style="left:33px;top:655.8px;width:7.3px"></div>
<svg style="left:41.8px;top:652.1px" width="13.6" height="9.4"><use href="#i-money"></use></svg>
<span class="t" style="top: 650.29px; font-size: 10px; line-height: 13px; color: rgb(28, 28, 44); left: 60.7px; letter-spacing: -0.006px;">Wirtschaftlichkeit</span>
<div class="a" style="left:297.3px;top:64px;width:851.7px;height:22px;background:#686868;"></div>
<span class="t" style="top: 64.6px; font-size: 15px; line-height: 20px; font-weight: 700; color: rgb(255, 255, 255); left: 558.2px; letter-spacing: 0.322px;">Mein Sanierungsfahrplan - Wirtschaftlichkeit</span>
<div class="a" style="left:300px;top:86px;width:850px;height:812px;background:#b0b0b0;"></div>
<div class="a" style="left:303px;top:89px;width:844px;height:21.5px;background:#f1f1f1;"></div>
<div class="a" style="left:303px;top:110.5px;width:844px;height:175.5px;background:#fff;"></div>
<div class="a" style="left:303px;top:291px;width:443px;height:22px;background:#f1f1f1;"></div>
<div class="a" style="left:303px;top:313px;width:443px;height:582px;background:#fff;"></div>
<div class="a" style="left:751px;top:291px;width:396px;height:22px;background:#f1f1f1;"></div>
<div class="a" style="left:751px;top:313px;width:396px;height:582px;background:#fff;"></div>
<span class="t" style="top: 92.9px; font-size: 10px; line-height: 13px; font-weight: 700; color: rgb(16, 16, 24); left: 310px; letter-spacing: 0.326px;">jährliche Gesamtkosten</span>
<span class="t" style="top: 295.3px; font-size: 10px; line-height: 13px; font-weight: 700; color: rgb(16, 16, 24); left: 310.4px; letter-spacing: 0.362px;">Investition</span>
<span class="t" style="top: 295.3px; font-size: 10px; line-height: 13px; font-weight: 700; color: rgb(16, 16, 24); left: 758.5px; letter-spacing: 0.347px;">laufende Kosten</span>
<div class="a" style="left:298px;top:60px;width:72px;height:28px;background:#ff0000;box-shadow:1px 2px 3px rgba(0,0,0,.35)"></div>
<div class="a" style="left:300px;top:62px;width:68px;height:24px;background:#aad332;background:linear-gradient(#86a548 0%,#9dc236 14%,#a8d032 30%,#aad332 78%,#9fc82f 100%)"></div>
<svg style="left:303px;top:67px" width="16" height="15"><circle cx="4.5" cy="6.4" r="3.7" fill="#bfe0fb" stroke="#1c2410" stroke-width="1.3"></circle><path d="M7.3 9.2L12 13.6" stroke="#111" stroke-width="1.7"></path><path d="M12.3 1.5V6.7M9.7 4.1H14.9" stroke="#000" stroke-width="1.8"></path></svg>
<svg style="left:328px;top:67.6px" width="13" height="15"><rect x=".7" y=".7" width="9" height="12" rx=".6" fill="#fff" stroke="#111" stroke-width="1.3"></rect><path d="M2 3H8.4" stroke="#111" stroke-width="1.6"></path><path d="M2 5.6H8.4M2 7.6H5M2 9.6H5" stroke="#333" stroke-width="1"></path><rect x="4" y="6.2" width="8" height="8" fill="#c8242a"></rect><path d="M6 13C8 11.6 9 9.4 8.6 7.6C8 9.4 9.6 11.4 11.6 11.2C10 10.8 7.4 11.6 6 13Z" fill="none" stroke="#fff" stroke-width=".8"></path></svg>
<svg style="left:349.4px;top:67.2px" width="14.4" height="14.4"><use href="#i-sfp"></use></svg>
<svg style="left:360px;top:66px" width="270" height="50"><g style="filter:drop-shadow(1px 1.5px 1px rgba(0,0,0,.35))"><path d="M116.5 32.4L16 12.6" stroke="#ff0000" stroke-width="2.4" fill="none"></path><path d="M7.4 10.8L23.6 7.2L20.6 19.4Z" fill="#ff0000"></path><rect x="116.8" y="21.8" width="139.4" height="20.4" fill="#fff" stroke="#ff0000" stroke-width="1.8"></rect></g></svg>
<span class="t" style="top: 88.3px; font-size: 14px; line-height: 18px; font-weight: 700; color: rgb(255, 0, 0); left: 486px; letter-spacing: 0.161px;">Berichte erstellen</span>
<div class="a" style="left:305.6px;top:115.2px;width:11.6px;height:11.6px;background:#0a64c0;border-radius:3px"></div>
<svg style="left:305.6px;top:115.2px" width="12" height="12"><path d="M2.8 6L5 8.2L9 3.8" fill="none" stroke="#fff" stroke-width="1.1"></path></svg>
<span class="t" style="top: 114.7px; font-size: 10px; line-height: 13px; color: rgb(16, 16, 24); left: 320.2px; letter-spacing: -0.214px;">Übernahme in die Umsetzungshilfe</span>
<svg style="left:0;top:0" width="1150" height="300"><g stroke="#dadada" stroke-width="1.5" fill="none"><path d="M374 150.9H940.5"></path><path d="M374 166.3H940.5"></path><path d="M374 182.7H940.5"></path><path d="M374 199H940.5"></path><path d="M374 214.6H940.5"></path><path d="M374 230.8H940.5"></path><path d="M374 246.6H940.5"></path></g></svg>
<span class="t" style="top: 144.9px; font-size: 10.3px; line-height: 13px; color: rgb(26, 26, 26); right: 1066.6px; letter-spacing: -0.35px;">14.000</span>
<span class="t" style="top: 160.3px; font-size: 10.3px; line-height: 13px; color: rgb(26, 26, 26); right: 1066.6px; letter-spacing: -0.35px;">12.000</span>
<span class="t" style="top: 176.7px; font-size: 10.3px; line-height: 13px; color: rgb(26, 26, 26); right: 1066.6px; letter-spacing: -0.35px;">10.000</span>
<span class="t" style="top: 193px; font-size: 10.3px; line-height: 13px; color: rgb(26, 26, 26); right: 1066.6px; letter-spacing: -0.396px;">8.000</span>
<span class="t" style="top: 208.6px; font-size: 10.3px; line-height: 13px; color: rgb(26, 26, 26); right: 1066.6px; letter-spacing: -0.396px;">6.000</span>
<span class="t" style="top: 224.8px; font-size: 10.3px; line-height: 13px; color: rgb(26, 26, 26); right: 1066.6px; letter-spacing: -0.396px;">4.000</span>
<span class="t" style="top: 240.6px; font-size: 10.3px; line-height: 13px; color: rgb(26, 26, 26); right: 1066.6px; letter-spacing: -0.396px;">2.000</span>
<span class="t" style="top: 256.9px; font-size: 10.3px; line-height: 13px; color: rgb(26, 26, 26); right: 1066.6px; letter-spacing: -0.134px;">0</span>
<div class="a" style="left:424px;top:158px;width:102px;height:67.4px;background:#aa0f0a;"></div>
<div class="a" style="left:424px;top:225.4px;width:102px;height:9.4px;background:none;background:repeating-linear-gradient(135deg,#ff8019 0,#ff8019 2.6px,#ec6a0c 2.6px,#ec6a0c 3.7px)"></div>
<div class="a" style="left:424px;top:234.8px;width:102px;height:1.3px;background:none;background:repeating-linear-gradient(135deg,#b2f23c 0,#b2f23c 2.6px,#9fd42f 2.6px,#9fd42f 3.7px)"></div>
<div class="a" style="left:424px;top:236.1px;width:102px;height:3.1px;background:#4fae32;"></div>
<div class="a" style="left:424px;top:239.2px;width:102px;height:24.2px;background:#fab900;"></div>
<div class="a" style="left:607px;top:137px;width:102px;height:7px;background:#aa0f0a;"></div>
<div class="a" style="left:607px;top:144px;width:102px;height:9.6px;background:none;background:repeating-linear-gradient(135deg,#ff8019 0,#ff8019 2.6px,#ec6a0c 2.6px,#ec6a0c 3.7px)"></div>
<div class="a" style="left:607px;top:153.6px;width:102px;height:69.4px;background:#eb6608;"></div>
<div class="a" style="left:607px;top:223px;width:102px;height:2px;background:none;background:repeating-linear-gradient(135deg,#b2f23c 0,#b2f23c 2.6px,#9fd42f 2.6px,#9fd42f 3.7px)"></div>
<div class="a" style="left:607px;top:225px;width:102px;height:14.2px;background:#4fae32;"></div>
<div class="a" style="left:607px;top:239.2px;width:102px;height:24.2px;background:#fab900;"></div>
<div class="a" style="left:790px;top:191px;width:102px;height:8px;background:#aa0f0a;"></div>
<div class="a" style="left:790px;top:199px;width:102px;height:8.4px;background:none;background:repeating-linear-gradient(135deg,#ff8019 0,#ff8019 2.6px,#ec6a0c 2.6px,#ec6a0c 3.7px)"></div>
<div class="a" style="left:790px;top:207.4px;width:102px;height:15.6px;background:#eb6608;"></div>
<div class="a" style="left:790px;top:223px;width:102px;height:2px;background:none;background:repeating-linear-gradient(135deg,#b2f23c 0,#b2f23c 2.6px,#9fd42f 2.6px,#9fd42f 3.7px)"></div>
<div class="a" style="left:790px;top:225px;width:102px;height:14.2px;background:#4fae32;"></div>
<div class="a" style="left:790px;top:239.2px;width:102px;height:24.2px;background:#fab900;"></div>
<svg style="left:0;top:0" width="1150" height="300"><g stroke="#4fae32" fill="none" stroke-linecap="round"><g stroke-width="3.3"><path d="M366.4 150.9H371"></path><path d="M366.4 166.3H371"></path><path d="M366.4 182.7H371"></path><path d="M366.4 199H371"></path><path d="M366.4 214.6H371"></path><path d="M366.4 230.8H371"></path><path d="M366.4 246.6H371"></path><path d="M366.4 262.9H371"></path></g><path d="M372.1 137.4V264.3" stroke-width="3.7"></path><path d="M372.1 264.3H940" stroke-width="4"></path></g></svg>
<span class="t" style="top: 268.5px; font-size: 10.3px; line-height: 13px; color: rgb(26, 26, 26); left: 443.6px; letter-spacing: 0.003px;">Instandhaltung</span>
<span class="t" style="top: 268.5px; font-size: 10.3px; line-height: 13px; color: rgb(26, 26, 26); left: 584.2px; letter-spacing: -0.047px;">Gesamtsanierung ohne Förderung</span>
<span class="t" style="top: 268.5px; font-size: 10.3px; line-height: 13px; color: rgb(26, 26, 26); left: 770.2px; letter-spacing: -0.043px;">Gesamtsanierung mit Förderung</span>
<div class="a" style="left:949px;top:142.6px;width:13px;height:12.6px;background:#aa0f0a;"></div>
<span class="t" style="top: 139.6px; font-size: 10.3px; line-height: 13px; color: rgb(34, 34, 34); left: 970.4px; letter-spacing: -0.035px;">Energiekosten (Wärme)</span>
<div class="a" style="left:949px;top:160.9px;width:13px;height:12.6px;background:none;background:repeating-linear-gradient(135deg,#ff8019 0,#ff8019 2.6px,#ec6a0c 2.6px,#ec6a0c 3.7px)"></div>
<span class="t" style="top: 157.9px; font-size: 10.3px; line-height: 13px; color: rgb(34, 34, 34); left: 970.4px; letter-spacing: -0.066px;">Energiekosten (Hilfsstrom)</span>
<div class="a" style="left:949px;top:179.2px;width:13px;height:12.6px;background:#eb6608;"></div>
<span class="t" style="top: 176.2px; font-size: 10.3px; line-height: 13px; color: rgb(34, 34, 34); left: 970.4px; letter-spacing: -0.047px;">Energieeffizienzbedingte Mehrkosten</span>
<div class="a" style="left:949px;top:197.5px;width:13px;height:12.6px;background:none;background:repeating-linear-gradient(135deg,#b2f23c 0,#b2f23c 2.6px,#9fd42f 2.6px,#9fd42f 3.7px)"></div>
<span class="t" style="top: 194.5px; font-size: 10.3px; line-height: 13px; color: rgb(34, 34, 34); left: 970.4px; letter-spacing: 0.041px;">Wartungskosten</span>
<div class="a" style="left:949px;top:215.8px;width:13px;height:12.6px;background:#4fae32;"></div>
<span class="t" style="top: 212.8px; font-size: 10.3px; line-height: 13px; color: rgb(34, 34, 34); left: 970.4px; letter-spacing: -0.09px;">Baunebenkosten(15% der Investition)</span>
<div class="a" style="left:949px;top:234.1px;width:13px;height:12.6px;background:#fab900;"></div>
<span class="t" style="top: 231.1px; font-size: 10.3px; line-height: 13px; color: rgb(34, 34, 34); left: 970.4px; letter-spacing: -0.021px;">Instandhaltungskosten</span>
<div class="band" style="top:364px"></div>
<div class="band" style="top:386px"></div>
<div class="band" style="top:408px"></div>
<span class="t" style="top: 320.7px; font-size: 10px; line-height: 13px; color: rgb(16, 16, 24); left: 444.2px; letter-spacing: -0.369px;">Gesamt</span>
<span class="t" style="top: 320.7px; font-size: 10px; line-height: 13px; color: rgb(16, 16, 24); left: 521px; letter-spacing: -0.03px;">Anteil Instandsetzung</span>
<span class="t" style="top: 320.7px; font-size: 10px; line-height: 13px; color: rgb(16, 16, 24); left: 629.6px; letter-spacing: -0.046px;">Anteil energiebedingt</span>
<svg style="left:312px;top:389.6px" width="14" height="14"><path d="M6.8 1.4V12.2M1.4 6.8H12.2" stroke="#fff" stroke-width="2"></path></svg>
<svg style="left:312px;top:411.6px" width="14" height="14"><path d="M1.4 4.6H12.2M1.4 9H12.2" stroke="#fff" stroke-width="2"></path></svg>
<span class="t" style="top: 345.2px; font-size: 10px; line-height: 13px; color: rgb(16, 16, 24); right: 1009.4px; letter-spacing: -0.357px;">Gebäudehülle</span>
<span class="t" style="top: 367.2px; font-size: 10px; line-height: 13px; color: rgb(16, 16, 24); right: 1009.4px; letter-spacing: -0.105px;">anrechenbar</span>
<span class="t" style="top: 389.2px; font-size: 10px; line-height: 13px; color: rgb(16, 16, 24); right: 1009.4px; letter-spacing: -0.046px;">Anlagentechnik etc.</span>
<span class="t" style="top: 411.2px; font-size: 10px; line-height: 13px; color: rgb(16, 16, 24); right: 1009.4px; letter-spacing: 0.124px;">Investition</span>
<span class="t" style="top: 433.2px; font-size: 10px; line-height: 13px; color: rgb(16, 16, 24); right: 1009.4px; letter-spacing: -0.134px;">Baunebenkosten</span>
<span class="t" style="top: 455.2px; font-size: 10px; line-height: 13px; color: rgb(16, 16, 24); right: 1009.4px; letter-spacing: 0.049px;">Förderbetrag</span>
<div class="bx w" style="left:425px;top:343.5px;width:68.5px"></div>
<div class="ab" style="left:478px;top:345.0px">A</div>
<span class="t" style="top:345.90px;font-size:10px;line-height:13px;color:#8a8a8a;right:959.60px;">189.690</span>
<span class="t" style="top:345.50px;font-size:10px;line-height:13px;color:#101018;left:497.40px;">€</span>
<div class="bx" style="left:425px;top:365.5px;width:68.5px"></div>
<span class="t" style="top:367.90px;font-size:10px;line-height:13px;color:#101018;right:941.20px;">125.862</span>
<span class="t" style="top:367.50px;font-size:10px;line-height:13px;color:#101018;left:497.40px;">€</span>
<div class="bx w" style="left:425px;top:387.5px;width:68.5px"></div>
<div class="ab" style="left:478px;top:389.0px">A</div>
<span class="t" style="top:389.90px;font-size:10px;line-height:13px;color:#8a8a8a;right:959.60px;">67.222</span>
<span class="t" style="top:389.50px;font-size:10px;line-height:13px;color:#101018;left:497.40px;">€</span>
<div class="bx" style="left:425px;top:409.5px;width:68.5px"></div>
<span class="t" style="top:411.90px;font-size:10px;line-height:13px;color:#101018;right:941.20px;">193.084</span>
<span class="t" style="top:411.50px;font-size:10px;line-height:13px;color:#101018;left:497.40px;">€</span>
<div class="bx" style="left:425px;top:431.5px;width:68.5px"></div>
<span class="t" style="top:433.90px;font-size:10px;line-height:13px;color:#101018;right:941.20px;">28.963</span>
<span class="t" style="top:433.50px;font-size:10px;line-height:13px;color:#101018;left:497.40px;">€</span>
<div class="bx w" style="left:425px;top:453.5px;width:68.5px"></div>
<div class="pb" style="left:477.2px;top:454.9px"></div><svg style="left:477.2px;top:454.9px" width="15" height="15"><use href="#i-pencil"></use></svg>
<span class="t" style="top:455.90px;font-size:10px;line-height:13px;color:#101018;right:959.60px;">110.278</span>
<span class="t" style="top:455.50px;font-size:10px;line-height:13px;color:#101018;left:497.40px;">€</span>
<div class="bx w" style="left:531.5px;top:343.5px;width:69px"></div>
<div class="ab" style="left:585px;top:345.0px">A</div>
<span class="t" style="top:345.90px;font-size:10px;line-height:13px;color:#8a8a8a;right:852.40px;">25.421</span>
<span class="t" style="top:345.50px;font-size:10px;line-height:13px;color:#101018;left:604.00px;">€</span>
<div class="bx" style="left:531.5px;top:365.5px;width:69px"></div>
<span class="t" style="top:367.90px;font-size:10px;line-height:13px;color:#101018;right:834.00px;">16.867</span>
<span class="t" style="top:367.50px;font-size:10px;line-height:13px;color:#101018;left:604.00px;">€</span>
<div class="bx w" style="left:531.5px;top:387.5px;width:69px"></div>
<div class="ab" style="left:585px;top:389.0px">A</div>
<span class="t" style="top:389.90px;font-size:10px;line-height:13px;color:#8a8a8a;right:852.40px;">33.961</span>
<span class="t" style="top:389.50px;font-size:10px;line-height:13px;color:#101018;left:604.00px;">€</span>
<div class="bx" style="left:531.5px;top:409.5px;width:69px"></div>
<span class="t" style="top:411.90px;font-size:10px;line-height:13px;color:#101018;right:834.00px;">50.828</span>
<span class="t" style="top:411.50px;font-size:10px;line-height:13px;color:#101018;left:604.00px;">€</span>
<div class="bx" style="left:531.5px;top:431.5px;width:69px"></div>
<span class="t" style="top:433.90px;font-size:10px;line-height:13px;color:#101018;right:834.00px;">7.624</span>
<span class="t" style="top:433.50px;font-size:10px;line-height:13px;color:#101018;left:604.00px;">€</span>
<div class="bx" style="left:636.5px;top:343.5px;width:69px"></div>
<span class="t" style="top:345.90px;font-size:10px;line-height:13px;color:#101018;right:729.40px;">164.269</span>
<span class="t" style="top:345.50px;font-size:10px;line-height:13px;color:#101018;left:709.00px;">€</span>
<div class="bx" style="left:636.5px;top:365.5px;width:69px"></div>
<span class="t" style="top:367.90px;font-size:10px;line-height:13px;color:#101018;right:729.40px;">108.995</span>
<span class="t" style="top:367.50px;font-size:10px;line-height:13px;color:#101018;left:709.00px;">€</span>
<div class="bx" style="left:636.5px;top:387.5px;width:69px"></div>
<span class="t" style="top:389.90px;font-size:10px;line-height:13px;color:#101018;right:729.40px;">33.261</span>
<span class="t" style="top:389.50px;font-size:10px;line-height:13px;color:#101018;left:709.00px;">€</span>
<div class="bx" style="left:636.5px;top:409.5px;width:69px"></div>
<span class="t" style="top:411.90px;font-size:10px;line-height:13px;color:#101018;right:729.40px;">142.256</span>
<span class="t" style="top:411.50px;font-size:10px;line-height:13px;color:#101018;left:709.00px;">€</span>
<span class="t" style="top: 455.7px; font-size: 10px; line-height: 13px; color: rgb(16, 16, 24); right: 797.2px; letter-spacing: 0.085px;">Annuitätsfaktor</span>
<div class="bx" style="left:636.5px;top:453.5px;width:69px"></div>
<span class="t" style="top:456.10px;font-size:10px;line-height:13px;font-weight:700;color:#101018;right:729.20px;">6,116</span>
<span class="t" style="top:456.10px;font-size:10px;line-height:13px;color:#101018;left:709.40px;">%</span>
<span class="t" style="top: 481.7px; font-size: 10px; line-height: 13px; color: rgb(16, 16, 24); left: 317.6px; letter-spacing: -0.199px;">Sanierung in einem Zug:</span>
<span class="t" style="top: 502.1px; font-size: 10px; line-height: 13px; color: rgb(16, 16, 24); right: 1009.4px; letter-spacing: -0.166px;">Sanierungskosten</span>
<div class="bx w" style="left:425px;top:499.5px;width:68.5px"></div>
<div class="pb" style="left:477.2px;top:501px"></div><svg style="left:477.2px;top:501px" width="15" height="15"><use href="#i-pencil"></use></svg>
<span class="t" style="top:502.40px;font-size:10px;line-height:13px;color:#101018;right:956.80px;">279.749</span>
<span class="t" style="top:502.10px;font-size:10px;line-height:13px;color:#101018;left:497.40px;">€</span>
<span class="t" style="top: 525.1px; font-size: 10px; line-height: 13px; color: rgb(16, 16, 24); right: 1009.4px; letter-spacing: -0.233px;">Sowieso-Kosten</span>
<div class="bx w" style="left:425px;top:522.5px;width:68.5px"></div>
<div class="ab" style="left:478px;top:524.5px">A</div>
<span class="t" style="top:525.40px;font-size:10px;line-height:13px;color:#8a8a8a;right:956.80px;">60.305</span>
<span class="t" style="top:525.10px;font-size:10px;line-height:13px;color:#101018;left:497.40px;">€</span>
<span class="t" style="top: 509.1px; font-size: 10px; line-height: 13px; color: rgb(16, 16, 24); right: 797.2px; letter-spacing: 0.008px;">Synergiefaktor</span>
<div class="bx w" style="left:636.5px;top:506.5px;width:69px"></div>
<div class="ab" style="left:690px;top:508px">A</div>
<span class="t" style="top:509.40px;font-size:10px;line-height:13px;color:#8a8a8a;right:745.00px;">10</span>
<span class="t" style="top:509.30px;font-size:10px;line-height:13px;color:#101018;left:709.40px;">%</span>
<div class="a" style="left:761px;top:320.8px;width:10.6px;height:10.6px;border-radius:50%;border:1px solid #858585;background:#f6f6f6;box-sizing:content-box"></div>
<div class="a" style="left:761px;top:343.2px;width:4.6px;height:4.6px;border-radius:50%;border:4px solid #0a64c0;background:#fff;box-sizing:content-box"></div>
<span class="t" style="top: 321.3px; font-size: 10px; line-height: 13px; color: rgb(16, 16, 24); left: 775.6px; letter-spacing: -0.06px;">Energiekostenermittlung mittels Verbrauchsfaktor</span>
<span class="t" style="top: 343.7px; font-size: 10px; line-height: 13px; color: rgb(16, 16, 24); left: 775.6px; letter-spacing: -0.064px;">Energiekostenermittlung mittels freier Nutzungsrandbedingungen</span>
<span class="t" style="top: 367.2px; font-size: 10px; line-height: 13px; color: rgb(16, 16, 24); right: 553.6px; letter-spacing: -0.135px;">Wärmekosten Bestand</span>
<div class="bx" style="left:880px;top:365.5px;width:69px"></div>
<span class="t" style="top:367.90px;font-size:10px;line-height:13px;color:#101018;right:485.60px;">8.293</span>
<span class="t" style="top: 367.5px; font-size: 10px; line-height: 13px; color: rgb(16, 16, 24); left: 952px; letter-spacing: 0.165px;">€/a</span>
<span class="t" style="top: 389.2px; font-size: 10px; line-height: 13px; color: rgb(16, 16, 24); right: 553.6px; letter-spacing: -0.127px;">Stromkosten Bestand</span>
<div class="bx" style="left:880px;top:387.5px;width:69px"></div>
<span class="t" style="top:389.90px;font-size:10px;line-height:13px;color:#101018;right:485.60px;">1.118</span>
<span class="t" style="top: 389.5px; font-size: 10px; line-height: 13px; color: rgb(16, 16, 24); left: 952px; letter-spacing: 0.165px;">€/a</span>
<span class="t" style="top: 411.2px; font-size: 10px; line-height: 13px; color: rgb(16, 16, 24); right: 553.6px; letter-spacing: -0.035px;">Wartungskosten Bestand</span>
<div class="bx w" style="left:880px;top:409.5px;width:69px"></div>
<div class="ab" style="left:933px;top:411.0px">A</div>
<span class="t" style="top:411.90px;font-size:10px;line-height:13px;color:#8a8a8a;right:504.40px;">70</span>
<span class="t" style="top: 411.5px; font-size: 10px; line-height: 13px; color: rgb(16, 16, 24); left: 952px; letter-spacing: 0.165px;">€/a</span>
<span class="t" style="top: 433.2px; font-size: 10px; line-height: 13px; color: rgb(16, 16, 24); right: 553.6px; letter-spacing: -0.155px;">Wärmekosten Sanierung</span>
<div class="bx" style="left:880px;top:431.5px;width:69px"></div>
<span class="t" style="top:433.90px;font-size:10px;line-height:13px;color:#101018;right:485.60px;">829</span>
<span class="t" style="top: 433.5px; font-size: 10px; line-height: 13px; color: rgb(16, 16, 24); left: 952px; letter-spacing: 0.165px;">€/a</span>
<span class="t" style="top: 455.2px; font-size: 10px; line-height: 13px; color: rgb(16, 16, 24); right: 553.6px; letter-spacing: -0.091px;">Stromkosten Sanierung</span>
<div class="bx" style="left:880px;top:453.5px;width:69px"></div>
<span class="t" style="top:455.90px;font-size:10px;line-height:13px;color:#101018;right:485.60px;">1.076</span>
<span class="t" style="top: 455.5px; font-size: 10px; line-height: 13px; color: rgb(16, 16, 24); left: 952px; letter-spacing: 0.165px;">€/a</span>
<span class="t" style="top: 477.2px; font-size: 10px; line-height: 13px; color: rgb(16, 16, 24); right: 553.6px; letter-spacing: -0.078px;">Wartungskosten Sanierung</span>
<div class="bx w" style="left:880px;top:475.5px;width:69px"></div>
<div class="ab" style="left:933px;top:477.0px">A</div>
<span class="t" style="top:477.90px;font-size:10px;line-height:13px;color:#8a8a8a;right:504.00px;">194</span>
<span class="t" style="top: 477.5px; font-size: 10px; line-height: 13px; color: rgb(16, 16, 24); left: 952px; letter-spacing: 0.165px;">€/a</span>
<div class="a" style="left:300px;top:898px;width:850px;height:28px;background:#efefef;"></div>
<div class="a" style="left:300px;top:903px;width:22.5px;height:23px;background:#aad332;"></div>
<svg style="left:300px;top:903px" width="23" height="23"><path d="M5.4 6L16.4 17.4M16.4 6L5.4 17.4" stroke="#c8202a" stroke-width="1.6"></path></svg>
<span class="t" style="top: 906.1px; font-size: 10px; line-height: 13px; font-weight: 700; color: rgb(16, 16, 24); left: 325.6px; letter-spacing: 0.399px;">Protokoll- Anzeige</span>
<span class="t" style="top: 906.3px; font-size: 10px; line-height: 13px; color: rgb(16, 16, 24); left: 744px; letter-spacing: -0.224px;">Durch Klicken der mit einem</span>
<svg style="left:867px;top:907.6px" width="10" height="10"><path d="M5 1L9.2 8.8H.8Z" fill="none" stroke="#333" stroke-width=".8"></path><path d="M5 3.8V6.4M5 7.2V8" stroke="#333" stroke-width=".8"></path></svg>
<span class="t" style="top: 906.3px; font-size: 10px; line-height: 13px; color: rgb(16, 16, 24); left: 879.4px; letter-spacing: -0.092px;">markierten Zeile wird die zugehörige Eingabemaske geöffnet.</span>
<div class="a" style="left:300px;top:926px;width:833px;height:51px;background:#fff;"></div>
<div class="a" style="left:1133px;top:926px;width:16px;height:51px;background:#f6f6f6;"></div>
<div class="a" style="left:300px;top:977px;width:850px;height:13px;background:#f3f3f3;"></div>
<div class="a" style="left:1139.8px;top:946.6px;width:1.8px;height:14.4px;background:#6e6e6e;"></div>
<div class="a" style="left:317px;top:984.4px;width:696px;height:1.6px;background:#6e6e6e;"></div>
<span class="t" style="top: 930.1px; font-size: 10px; line-height: 13px; color: rgb(29, 138, 29); left: 301px; letter-spacing: -0.03px;">Bilanz: 20:30:14 info</span>
<span class="t" style="top:930.10px;font-size:10px;line-height:13px;color:#1d8a1d;left:433.60px;">-</span>
<span class="t" style="top: 930.1px; font-size: 10px; line-height: 13px; color: rgb(29, 138, 29); left: 444.4px; letter-spacing: -0.195px;">Protokollierung der Berechnung nach DIN V 18599 - GEG/EnEV-Nach-/Ausweise</span>
<span class="t" style="top: 942.1px; font-size: 10px; line-height: 13px; color: rgb(29, 138, 29); left: 301px; letter-spacing: -0.03px;">Bilanz: 20:30:14 info</span>
<span class="t" style="top:942.10px;font-size:10px;line-height:13px;color:#1d8a1d;left:433.60px;">-</span>
<span class="t" style="top: 942.1px; font-size: 10px; line-height: 13px; color: rgb(29, 138, 29); left: 444.4px; letter-spacing: -0.195px;">Protokollierung der Berechnung nach DIN V 18599 - GEG/EnEV-Nach-/Ausweise</span>
<span class="t" style="top: 954.1px; font-size: 10px; line-height: 13px; color: rgb(29, 138, 29); left: 301px; letter-spacing: -0.03px;">Bilanz: 20:30:14 info</span>
<span class="t" style="top:954.10px;font-size:10px;line-height:13px;color:#1d8a1d;left:433.60px;">-</span>
<span class="t" style="top: 954.1px; font-size: 10px; line-height: 13px; color: rgb(29, 138, 29); left: 444.4px; letter-spacing: -0.195px;">Protokollierung der Berechnung nach DIN V 18599 - GEG/EnEV-Nach-/Ausweise</span>
<div class="a" style="left:468px;top:928.6px;width:3px;height:1px;background:#1d8a1d;"></div>
<div class="a" style="left:556.6px;top:928.6px;width:3px;height:1px;background:#1d8a1d;"></div>
<div class="a" style="left:748px;top:928.6px;width:3px;height:1px;background:#1d8a1d;"></div>
<div class="a" style="left:970.6px;top:928.6px;width:3px;height:1px;background:#1d8a1d;"></div>
<div class="a" style="left:1149px;top:65px;width:3.4px;height:925px;background:#f0f0f0;"></div>
<div class="a" style="left:1152.4px;top:65px;width:257px;height:17.4px;background:#fff;border-radius:2px;box-shadow:inset 0 0 0 1px #ececec,0 1px 0 0 #b5b5b5"></div>
<span class="t" style="top: 67.5px; font-size: 10px; line-height: 13px; left: 1156px; letter-spacing: -0.16px;">Heizung und Solaranlage (3)</span>
<svg style="left:1397px;top:70.6px" width="10" height="7"><path d="M.8 1L4.6 5L8.4 1" fill="none" stroke="#444" stroke-width="1"></path></svg>
<div class="a" style="left:1411px;top:65px;width:19px;height:17.6px;background:#aad332;border:1.6px solid #1c6fc4;border-radius:3px;box-sizing:border-box;box-shadow:inset 0 0 0 1px #dff0b0"></div>
<span class="t" style="top:65.00px;font-size:13.5px;line-height:18px;color:#fff;left:1420.40px;transform:translateX(-50%);">A</span>
<div class="a" style="left:1152px;top:83px;width:278px;height:890px;background:#808080;"></div>
<div class="a" style="left:1155px;top:86px;width:275px;height:882px;background:#fff;"></div>
<div class="sep" style="top:496px"></div>
<div class="sep" style="top:625px"></div>
<div class="sep" style="top:717px"></div>
<div class="sep" style="top:840px"></div>
<div class="circ" style="top:99.5px"></div>
<div class="circ" style="top:515px"></div>
<div class="circ" style="top:737px"></div>
<div class="circ" style="top:644px;background:#fff;box-sizing:border-box;border:1.2px solid #1a1a1a"></div>
<span class="t" style="top: 93.9px; font-size: 22px; line-height: 26px; color: rgb(38, 38, 38); left: 1166.6px; letter-spacing: 0.056px;">GEG 2024</span>
<span class="t" style="top: 122.3px; font-size: 16.4px; line-height: 20px; color: rgb(38, 38, 38); left: 1166.8px; letter-spacing: 0.104px;">DIN V 18599</span>
<span class="t" style="top: 509.9px; font-size: 22px; line-height: 26px; color: rgb(38, 38, 38); left: 1166.6px; letter-spacing: 0.099px;">Erneuerbare</span>
<span class="t" style="top: 535.9px; font-size: 22px; line-height: 26px; color: rgb(38, 38, 38); left: 1166.6px; letter-spacing: -0.01px;">Energien</span>
<span class="t" style="top: 638.9px; font-size: 22px; line-height: 26px; color: rgb(38, 38, 38); left: 1166.6px; letter-spacing: 0.141px;">Sommerlicher</span>
<span class="t" style="top: 665.9px; font-size: 22px; line-height: 26px; color: rgb(38, 38, 38); left: 1166.6px; letter-spacing: 0.047px;">Wärmeschutz</span>
<span class="t" style="top: 692.8px; font-size: 16.4px; line-height: 20px; color: rgb(38, 38, 38); left: 1166.8px; letter-spacing: 0.077px;">DIN 4108-2</span>
<span class="t" style="top: 732.9px; font-size: 22px; line-height: 26px; color: rgb(38, 38, 38); left: 1166.6px; letter-spacing: 0.075px;">Lüftungskonzept</span>
<span class="t" style="top: 758.8px; font-size: 16.4px; line-height: 20px; color: rgb(38, 38, 38); left: 1166.8px; letter-spacing: 0.077px;">DIN 1946-6</span>
<span class="t" style="top: 853.6px; font-size: 22px; line-height: 26px; color: rgb(38, 38, 38); left: 1166.6px; letter-spacing: 0.013px;">Beratung</span>
<span class="t" style="top: 881.3px; font-size: 16.4px; line-height: 20px; color: rgb(38, 38, 38); left: 1166.8px; letter-spacing: 0.104px;">DIN V 18599</span>
<div class="card" style="top:146px;height:168px"><div class="g"></div><span class="rot" style="left:7.6px;top:83.6px"><span style="font-size:13px">Effizienzklasse</span></span><div class="a" style="left:25px;top:0;width:220.5px;height:168px;background:#84b419"></div><span class="t" style="left:135.3px;top:-7.9px;transform:translateX(-50%) scaleX(.909);font-size:161.3px;line-height:170px;color:#fff;text-shadow:1px 0 0 rgba(200,140,40,.55),-1px 0 0 rgba(60,130,160,.45)">A</span><span class="t" style="right:19.2px;top:143px;font-size:17px;line-height:18px;letter-spacing:-.12px;color:#fff;text-shadow:1px 1px 1.5px rgba(0,0,0,.5)"><b>35,6</b> kWh/(m²a)</span></div>
<div class="card" style="top:320px;height:63.6px"><div class="g"></div><span class="rot" style="left:7.6px;top:30.0px">Q<span style="font-size:9.8px"> P</span></span><div class="a" style="left:25px;top:0px;width:131.5px;height:20.6px;background:#d2d2d2;"></div><span class="t" style="left:31px;top:3.7px;font-size:11px;line-height:13px;color:#111">72,5 kWh/(m²a)</span><div class="a" style="left:25px;top:21.4px;width:184.5px;height:20.6px;background:#3c82b6;"></div><span class="t" style="left:31px;top:25.1px;font-size:11px;line-height:13px;color:#111">101,5 kWh/(m²a)</span><div class="a" style="left:25px;top:42.8px;width:27px;height:20.8px;background:linear-gradient(90deg,#4f8f06 0%,#84b419 55%,#8aba1c 100%);"></div><span class="t" style="left:31px;top:46.6px;font-size:11px;line-height:13px;color:#111">14,9 kWh/(m²a)</span></div>
<div class="card" style="top:389.4px;height:62.6px"><div class="g"></div><span class="rot" style="left:7.6px;top:30.8px">H<span style="font-size:9.8px"> T</span></span><div class="a" style="left:25px;top:0px;width:112px;height:20.4px;background:#d2d2d2;"></div><span class="t" style="left:31px;top:3.6px;font-size:11px;line-height:13px;color:#111">0,42 W/(m²K)</span><div class="a" style="left:25px;top:21px;width:187px;height:20.6px;background:#3c82b6;"></div><span class="t" style="left:31px;top:24.7px;font-size:11px;line-height:13px;color:#111">0,70 W/(m²K)</span><div class="a" style="left:25px;top:42px;width:74px;height:20.6px;background:linear-gradient(90deg,#4f8f06 0%,#84b419 35%,#b4d42e 80%,#cbdc3c 100%);"></div><span class="t" style="left:31px;top:45.7px;font-size:11px;line-height:13px;color:#111">0,28 W/(m²K)</span></div>
<div class="card" style="top:458px;height:22.4px"><div class="g"></div><span class="rot" style="left:7.6px;top:11.2px">EH</span><div class="a" style="left:25px;top:0;width:50.0px;height:22.4px;background:#b42020"><span class="t" style="right:.8px;top:5px;font-size:11px;line-height:13px;font-weight:700;color:#fff">40</span></div><div class="a" style="left:77px;top:0;width:18.6px;height:22.4px;background:#84b419"><span class="t" style="right:.8px;top:5px;font-size:11px;line-height:13px;font-weight:700;color:#fff">55</span></div><div class="a" style="left:98px;top:0;width:18.6px;height:22.4px;background:#84b419"><span class="t" style="right:.8px;top:5px;font-size:11px;line-height:13px;font-weight:700;color:#fff">70</span></div><div class="a" style="left:119px;top:0;width:19.0px;height:22.4px;background:#84b419"><span class="t" style="right:.8px;top:5px;font-size:11px;line-height:13px;font-weight:700;color:#fff">85</span></div><div class="a" style="left:140px;top:0;width:103.0px;height:22.4px;background:#b42020"><span class="t" style="right:.8px;top:5px;font-size:11px;line-height:13px;font-weight:700;color:#fff">160</span></div></div>
<div class="card" style="top:568px;height:42px"><div class="g"></div><span class="rot" style="left:7.6px;top:21.0px">EE</span><div class="a" style="left:25px;top:0px;width:143px;height:20.6px;background:#d2d2d2;"></div><span class="t" style="left:31px;top:3.7px;font-size:11px;line-height:13px;color:#111">65 %</span><div class="a" style="left:25px;top:21px;width:220.5px;height:21px;background:linear-gradient(90deg,#b8201f 0%,#d96a28 18%,#efaa2a 36%,#ffd42a 50%,#cfd42e 64%,#a0cd2e 77%,#6fa414 92%,#5a980a 100%);"></div><span class="t" style="left:31px;top:24.9px;font-size:11px;line-height:13px;color:#111">100 %</span></div>
<div class="card" style="top:783px;height:42px"><div class="g"></div><span class="rot" style="left:7.6px;top:21.0px">inf min</span><div class="a" style="left:25px;top:0px;width:109.8px;height:20.6px;background:#d2d2d2;"></div><span class="t" style="left:31px;top:3.7px;font-size:11px;line-height:13px;color:#111">39 m³/h</span><div class="a" style="left:25px;top:21px;width:37.6px;height:21px;background:#3c82b6;"></div><span class="t" style="left:31px;top:24.9px;font-size:11px;line-height:13px;color:#111">13 m³/h</span></div>
<div class="card" style="top:905.4px;height:20.2px"><div class="g"></div><span class="rot" style="left:7.6px;top:10.1px">Q<span style="font-size:9.8px"> i</span></span><div class="a" style="left:25px;top:0px;width:31.5px;height:20.2px;background:linear-gradient(90deg,#4f8f06 0%,#84b419 55%,#8aba1c 100%);"></div><span class="t" style="left:31px;top:3.5px;font-size:11px;line-height:13px;color:#111">29,0 kWh/(m²a)</span></div>
<div class="card" style="top:933px;height:20.6px"><div class="g"></div><span class="rot" style="left:7.6px;top:9.3px">CO<span style="font-size:9.8px"> 2</span></span><div class="a" style="left:25px;top:0px;width:9.4px;height:20.6px;background:linear-gradient(90deg,#4f8f06 0%,#84b419 55%,#8aba1c 100%);"></div><span class="t" style="left:31px;top:3.7px;font-size:11px;line-height:13px;color:#111">3,57 kg/(m²a)</span></div>
</div>

</body></html>
